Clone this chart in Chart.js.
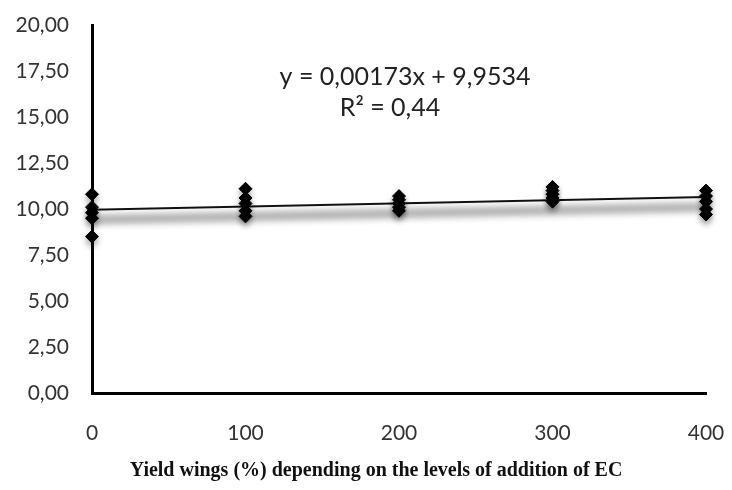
<!DOCTYPE html>
<html>
<head>
<meta charset="utf-8">
<script src="https://cdn.jsdelivr.net/npm/chart.js@4"></script>
<style>
  html, body { margin: 0; padding: 0; background: #fff; }
  #wrap { width: 732px; height: 490px; }
</style>
</head>
<body>
<div id="wrap"><canvas id="c" width="732" height="490"></canvas></div>
<script>
// ---- data ----
const levels = [0, 100, 200, 300, 400];
const obsLevel0 = [10.8, 10.1, 9.8, 9.5, 8.5];
const obsLevel100 = [11.1, 10.6, 10.3, 9.9, 9.6];
const obsLevel200 = [10.7, 10.5, 10.3, 10.1, 9.9];
const obsLevel300 = [11.2, 11.0, 10.8, 10.6, 10.4];
const obsLevel400 = [11.0, 10.7, 10.4, 10.0, 9.7];
const trendSlope = 0.00173;
const trendIntercept = 9.9534;
const equationText = 'y = 0,00173x + 9,9534';
const r2Text = 'R² = 0,44';
const xTitle = 'Yield wings (%) depending on the levels of addition of EC';
const yTicks = [0, 2.5, 5, 7.5, 10, 12.5, 15, 17.5, 20];

const groups = [obsLevel0, obsLevel100, obsLevel200, obsLevel300, obsLevel400];
const scatterPts = [];
groups.forEach((g, i) => g.forEach(v => scatterPts.push({x: levels[i], y: v})));
const trendPts = [levels[0], levels[levels.length - 1]].map(x => ({x: x, y: trendSlope * x + trendIntercept}));

const decorPlugin = {
  id: 'decor',
  beforeDatasetsDraw(chart) {
    const meta = chart.getDatasetMeta(1);
    if (!meta || !meta.data.length) return;
    const ctx = chart.ctx;
    const a = meta.data[0], b = meta.data[meta.data.length - 1];
    ctx.save();
    ctx.filter = 'blur(3px)';
    ctx.strokeStyle = 'rgba(0,0,0,0.3)';
    ctx.lineWidth = 10;
    ctx.beginPath();
    ctx.moveTo(a.x, a.y + 10);
    ctx.lineTo(b.x, b.y + 10);
    ctx.stroke();
    ctx.restore();
  },
  beforeDatasetDraw(chart, args) {
    if (args.index === 0) {
      const ctx = chart.ctx;
      ctx.save();
      ctx.shadowColor = 'rgba(0,0,0,0.35)';
      ctx.shadowBlur = 6;
      ctx.shadowOffsetY = 4;
    }
  },
  afterDatasetDraw(chart, args) {
    if (args.index === 0) chart.ctx.restore();
  },
  afterDraw(chart) {
    const ctx = chart.ctx;
    ctx.save();
    ctx.fillStyle = '#222';
    ctx.font = '25px Lato';
    ctx.textAlign = 'center';
    ctx.textBaseline = 'middle';
    ctx.fillText(equationText, 405, 77);
    ctx.fillText(r2Text, 390, 108);
    ctx.fillStyle = '#111';
    ctx.font = 'bold 20px "Liberation Serif"';
    ctx.fillText(xTitle, 376, 471);
    ctx.restore();
  }
};

new Chart(document.getElementById('c'), {
  type: 'scatter',
  data: {
    datasets: [
      {
        data: scatterPts,
        pointStyle: 'rectRot',
        pointRadius: 6.5,
        pointHoverRadius: 6.5,
        backgroundColor: '#000',
        borderColor: '#000',
        borderWidth: 1,
        clip: false,
        order: 1
      },
      {
        type: 'line',
        data: trendPts,
        borderColor: '#111',
        borderWidth: 2,
        pointRadius: 0,
        fill: false,
        order: 2
      }
    ]
  },
  options: {
    responsive: false,
    animation: false,
    devicePixelRatio: 1,
    layout: { padding: { left: 0, right: 26, top: 25, bottom: 0 } },
    plugins: {
      legend: { display: false },
      tooltip: { enabled: false },
      title: { display: false }
    },
    scales: {
      x: {
        type: 'linear',
        min: 0, max: 400,
        afterFit(scale) { scale.height = 97; scale.paddingLeft = 0; scale.paddingRight = 0; },
        grid: { display: false, drawTicks: false },
        border: { display: true, color: '#000', width: 3 },
        ticks: {
          stepSize: 100,
          color: '#333',
          font: { family: 'Lato', size: 21 },
          padding: 28
        }
      },
      y: {
        type: 'linear',
        min: 0, max: 20,
        afterBuildTicks(scale) { scale.ticks = yTicks.map(v => ({value: v})); },
        afterFit(scale) { scale.width = 92; scale.paddingTop = 0; scale.paddingBottom = 0; },
        grid: { display: false, drawTicks: false },
        border: { display: true, color: '#000', width: 3 },
        ticks: {
          color: '#333',
          font: { family: 'Lato', size: 21 },
          padding: 23,
          callback: v => v.toFixed(2).replace('.', ',')
        }
      }
    }
  },
  plugins: [decorPlugin]
});
</script>
</body>
</html>
